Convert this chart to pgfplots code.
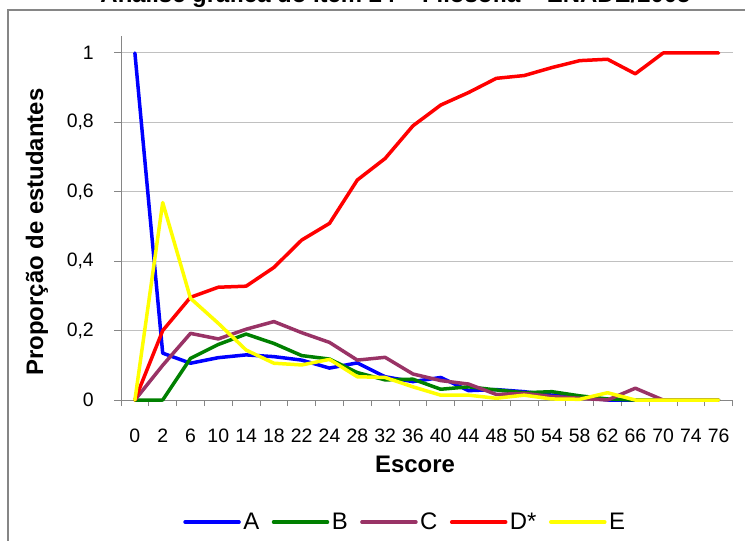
\documentclass[border=0pt]{standalone}
\usepackage{fontspec}
\setmainfont{Liberation Sans}
\usepackage{pgfplots}
\usepackage{pgfplotstable}
\pgfplotsset{compat=1.18}
\definecolor{cA}{RGB}{0,0,255}
\definecolor{cB}{RGB}{0,128,0}
\definecolor{cC}{RGB}{153,51,102}
\definecolor{cD}{RGB}{255,0,0}
\definecolor{cE}{RGB}{255,255,0}
\definecolor{axgray}{RGB}{134,134,134}
\definecolor{gridgray}{RGB}{192,192,192}
\pgfplotstableread{
x A B C D E
0 1 0 0 0 0
1 0.135 0 0.1 0.2 0.569
2 0.106 0.12 0.192 0.296 0.293
3 0.122 0.16 0.176 0.325 0.221
4 0.13 0.19 0.204 0.328 0.144
5 0.125 0.163 0.226 0.382 0.106
6 0.115 0.128 0.194 0.461 0.101
7 0.092 0.118 0.166 0.509 0.117
8 0.107 0.079 0.115 0.634 0.067
9 0.067 0.058 0.123 0.696 0.065
10 0.053 0.06 0.075 0.79 0.038
11 0.065 0.031 0.056 0.85 0.014
12 0.027 0.038 0.046 0.886 0.014
13 0.03 0.029 0.016 0.927 0.005
14 0.024 0.021 0.019 0.935 0.014
15 0.014 0.024 0.01 0.958 0.003
16 0.01 0.012 0.005 0.978 0.002
17 0 0.003 0 0.982 0.021
18 0 0 0.034 0.94 0
19 0 0 0 1 0
20 0 0 0 1 0
21 0 0 0 1 0
}\datatable
\begin{document}
\begin{tikzpicture}[x=1bp,y=1bp]
\useasboundingbox (0,0) rectangle (745,-541);
\clip (0,0) rectangle (745,-541);
\draw[axgray, line width=1.5bp] (8,-10) rectangle (800,-600);
\node[anchor=base, inner sep=0pt, font=\bfseries\fontsize{24}{24}\selectfont] at (395.5,-2.7) {Análise gráfica do Item 24 – Filosofia – ENADE/2005};
\begin{axis}[
  at={(121bp,-400bp)}, anchor=south west,
  scale only axis, width=611.6bp, height=364.35bp,
  xmin=-0.5, xmax=21.5, ymin=0, ymax=1.05,
  axis lines*=left,
  axis line style={-, draw=axgray, line width=1bp},
  clip=false,
  tick align=outside,
  major tick length=7bp, minor tick length=6bp,
  xtick={0,...,21},
  xticklabels={0,2,6,10,14,18,22,24,28,32,36,40,44,48,50,54,58,62,66,70,74,76},
  major x tick style={draw=none},
  minor xtick={-0.5,0.5,...,21.5},
  minor x tick style={draw=axgray, line width=1bp},
  ytick={0,0.2,0.4,0.6,0.8,1},
  yticklabels={0,{0,2},{0,4},{0,6},{0,8},1},
  major y tick style={draw=axgray, line width=1bp},
  ymajorgrids,
  major grid style={draw=gridgray, line width=1bp},
  ticklabel style={font=\fontsize{19.5}{19.5}\selectfont},
  xticklabel style={anchor=base, inner sep=0pt, yshift=-35.3bp},
  yticklabel style={anchor=east, inner sep=0pt, xshift=-20bp},
  xlabel={Escore},
  ylabel={Proporção de estudantes},
  xlabel style={at={(axis description cs:0.4807,0)}, anchor=base, inner sep=0pt, yshift=-72bp, font=\bfseries\fontsize{24}{24}\selectfont},
  ylabel style={at={(axis description cs:-0.1275,0.461)}, anchor=base, inner sep=0pt, font=\bfseries\fontsize{24}{24}\selectfont},
  legend style={at={(axis description cs:0.465,-0.335)}, anchor=center, draw=none, fill=none,
    legend columns=5, font=\fontsize{24}{24}\selectfont,
    nodes={inner sep=2.5bp},
    /tikz/every even column/.append style={column sep=10bp}},
  legend image code/.code={\draw[#1] (0bp,0bp) -- (54bp,0bp);},
  every axis plot/.append style={line width=3.5bp, line join=round, line cap=round, no marks},
]
\addplot[cA] table[x=x,y=A] {\datatable};
\addlegendentry{A}
\addplot[cB] table[x=x,y=B] {\datatable};
\addlegendentry{B}
\addplot[cC] table[x=x,y=C] {\datatable};
\addlegendentry{C}
\addplot[cD] table[x=x,y=D] {\datatable};
\addlegendentry{D*}
\addplot[cE] table[x=x,y=E] {\datatable};
\addlegendentry{E}
\end{axis}
\end{tikzpicture}
\end{document}
